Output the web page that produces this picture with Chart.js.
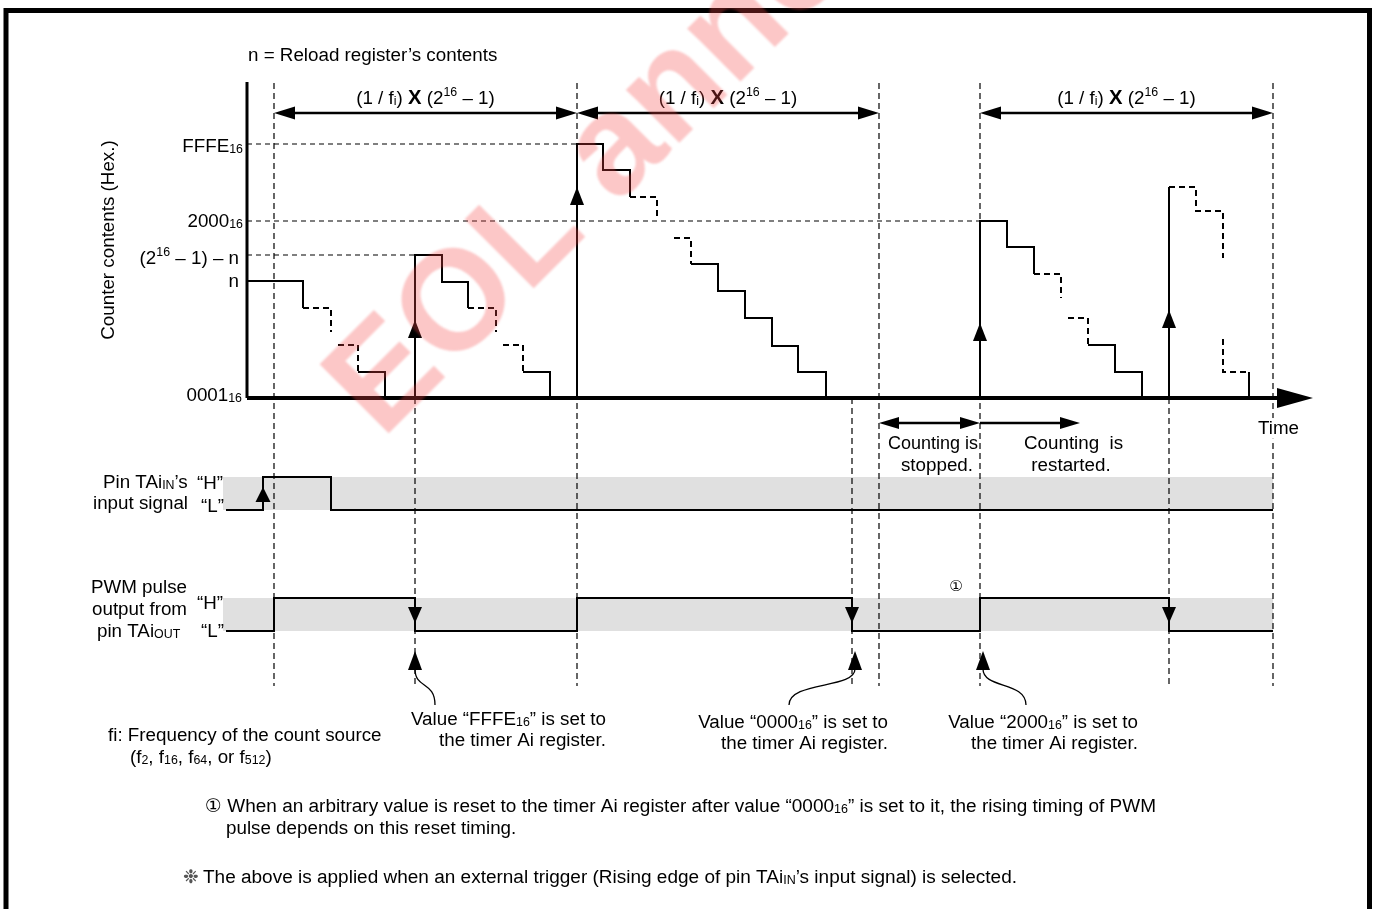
<!DOCTYPE html>
<html>
<head>
<meta charset="utf-8">
<script src="https://cdn.jsdelivr.net/npm/chart.js@4.4.1/dist/chart.umd.min.js"></script>
<style>
  html, body { margin: 0; padding: 0; background: #fff; }
  canvas { display: block; }
</style>
</head>
<body>
<canvas id="timing" width="1377" height="909"></canvas>
<script>
// time axis: count-source ticks measured from the counter axis (schematic units)
// counter axis: schematic counter level above 0001h
const tickLevels = [254, 177, 143, 117, 0];
const tickLabels = [
  ['FFFE', ['16', 'sub']],
  ['2000', ['16', 'sub']],
  ['(2', ['16', 'sup'], ' \u2013 1) \u2013 n'],
  ['n'],
  ['0001', ['16', 'sub']]
];

// counter staircases, solid parts
const counterSolid = [
  [[0, 117], [56, 117], [56, 90]],
  [[111, 26], [138, 26], [138, 0]],
  [[168, 0], [168, 143], [195, 143], [195, 116], [221, 116], [221, 90]],
  [[276, 26], [303, 26], [303, 0]],
  [[330, 0], [330, 254], [356, 254], [356, 228], [383, 228], [383, 201]],
  [[444, 134], [471, 134], [471, 107], [498, 107], [498, 80], [525, 80], [525, 52], [551, 52], [551, 26], [579, 26], [579, 0]],
  [[733, 0], [733, 177], [760, 177], [760, 151], [787, 151], [787, 124]],
  [[841, 53], [868, 53], [868, 26], [895, 26], [895, 0]],
  [[922, 0], [922, 211]],
  [[1002, 26], [1002, 0]]
];
// counter staircases, dashed (omitted counts)
const counterDashed = [
  [[56, 90], [84, 90], [84, 66]],
  [[91, 53], [111, 53], [111, 26]],
  [[221, 90], [249, 90], [249, 66]],
  [[256, 53], [276, 53], [276, 26]],
  [[383, 201], [410, 201], [410, 178]],
  [[427, 160], [444, 160], [444, 134]],
  [[787, 124], [814, 124], [814, 100]],
  [[821, 80], [841, 80], [841, 53]],
  [[922, 211], [949, 211], [949, 187], [976, 187], [976, 140]],
  [[976, 59], [976, 26], [1002, 26]]
];
// reload edges: [time, arrow tip level]
const reloadArrows = [[168, 78], [330, 211], [733, 75], [922, 88]];

// dashed guides
const guideFull = [27, 330, 632, 733, 1026];
const guideLower = [168, 605, 922];
const guideLevels = [[254, 330], [177, 733], [143, 168]];

// period arrows (1/fi) x (2^16 - 1)
const periods = [[27, 330], [330, 632], [733, 1026]];
const countStop = [632, 733];
const countRestart = [733, 833];

// pin signals (0 = "L", 1 = "H")
const taIn = [[-21, 0], [16, 0], [16, 1], [84, 1], [84, 0], [1026, 0]];
const taInRise = [16];
const pwmOut = [[-21, 0], [27, 0], [27, 1], [168, 1], [168, 0], [330, 0], [330, 1], [605, 1], [605, 0],
                [733, 0], [733, 1], [922, 1], [922, 0], [1026, 0]];
const pwmFalls = [168, 605, 922];
const bandSpan = [-24, 1026];

// register writes pointed at below the PWM trace: [time, tail offset]
const registerWrites = [[168, 20], [608, -66], [736, 43]];

const xRange = [-25, 1066];
const axisEnd = 1030;
const yAxisTop = 316;
const periodLevel = 285;
const countingLevel = -25;

const FONT = '"Liberation Sans", Arial, Helvetica, "DejaVu Sans", sans-serif';
const SIZE = 18.8;
const area = { left: 222, right: 1313, top: 83, bottom: 686 };

function rangeFor(pxA, vA, pxB, vB) {
  const per = (pxA - pxB) / (vB - vA);
  return { min: vA - (area.bottom - pxA) / per, max: vA + (pxA - area.top) / per };
}
const ycR = rangeFor(398, 0, 144, 254);
const yinR = rangeFor(510, 0, 477, 1);
const ypwmR = rangeFor(631, 0, 598, 1);

function partFont(kind, size) {
  if (kind === 'sub' || kind === 'sup') return `${(size * 0.66).toFixed(1)}px ${FONT}`;
  if (kind === 'x') return `bold ${(size * 1.08).toFixed(1)}px ${FONT}`;
  return `${size}px ${FONT}`;
}
function drawRich(ctx, parts, x, y, o = {}) {
  const size = o.size || SIZE;
  const items = parts.map(p => (typeof p === 'string' ? [p, ''] : p));
  let w = 0;
  const widths = items.map(([t, k]) => {
    ctx.font = partFont(k, size);
    const m = ctx.measureText(t).width;
    w += m;
    return m;
  });
  const sx = o.width ? o.width / w : 1;
  const total = w * sx;
  const x0 = o.align === 'right' ? x - total : o.align === 'center' ? x - total / 2 : x;
  ctx.save();
  if (o.clear) {
    ctx.fillStyle = '#fff';
    ctx.fillRect(x0 - 2, y - size * 0.85, total + 4, size * 1.1);
  }
  ctx.translate(x0, y);
  ctx.scale(sx, 1);
  ctx.textAlign = 'left';
  ctx.textBaseline = 'alphabetic';
  ctx.fillStyle = o.color || '#000';
  let cx = 0;
  items.forEach(([t, k], i) => {
    ctx.font = partFont(k, size);
    const dy = k === 'sub' ? size * 0.06 : k === 'sup' ? -size * 0.4 : 0;
    ctx.fillText(t, cx, dy);
    cx += widths[i];
  });
  ctx.restore();
}

function tri(ctx, x, y, dir, len, half) {
  ctx.beginPath();
  ctx.moveTo(x, y);
  if (dir === 'up') { ctx.lineTo(x - half, y + len); ctx.lineTo(x + half, y + len); }
  if (dir === 'down') { ctx.lineTo(x - half, y - len); ctx.lineTo(x + half, y - len); }
  if (dir === 'left') { ctx.lineTo(x + len, y - half); ctx.lineTo(x + len, y + half); }
  if (dir === 'right') { ctx.lineTo(x - len, y - half); ctx.lineTo(x - len, y + half); }
  ctx.closePath();
  ctx.fill();
}

function hArrow(ctx, x1, x2, y, heads, len, half, lw) {
  ctx.lineWidth = lw;
  ctx.beginPath();
  ctx.moveTo(heads.left ? x1 + len * 0.5 : x1, y);
  ctx.lineTo(heads.right ? x2 - len * 0.5 : x2, y);
  ctx.stroke();
  if (heads.left) tri(ctx, x1, y, 'left', len, half);
  if (heads.right) tri(ctx, x2, y, 'right', len, half);
}

function segDataset(points, opts) {
  return {
    data: points.map(([x, y]) => ({ x, y })),
    yAxisID: opts.axis || 'yc',
    showLine: true,
    borderColor: '#000',
    borderWidth: opts.width,
    borderDash: opts.dash || [],
    borderCapStyle: 'butt',
    borderJoinStyle: 'miter',
    pointRadius: 0,
    tension: 0,
    fill: false,
    clip: false
  };
}

const datasets = [];
guideLevels.forEach(([lv, end]) => datasets.push(segDataset([[0, lv], [end, lv]], { width: 1.2, dash: [5, 4] })));
guideFull.forEach(t => datasets.push(segDataset([[t, ycR.max], [t, ycR.min]], { width: 1.2, dash: [6, 4] })));
guideLower.forEach(t => datasets.push(segDataset([[t, 0], [t, ycR.min]], { width: 1.2, dash: [6, 4] })));
counterSolid.forEach(s => datasets.push(segDataset(s, { width: 2 })));
counterDashed.forEach(s => datasets.push(segDataset(s, { width: 2, dash: [6, 4] })));
datasets.push(segDataset([[0, 0], [0, yAxisTop]], { width: 3 }));
datasets.push(segDataset([[0, 0], [axisEnd, 0]], { width: 4 }));
datasets.push(segDataset(taIn, { width: 2, axis: 'yin' }));
datasets.push(segDataset(pwmOut, { width: 2, axis: 'ypwm' }));

const diagram = {
  id: 'diagram',
  beforeDraw(chart) {
    const ctx = chart.ctx;
    ctx.save();
    ctx.fillStyle = '#fff';
    ctx.fillRect(0, 0, chart.width, chart.height);
    ctx.restore();
  },
  beforeDatasetsDraw(chart) {
    const { ctx, scales } = chart;
    const x = scales.x;
    ctx.save();
    ctx.fillStyle = '#e0e0e0';
    const bx0 = x.getPixelForValue(bandSpan[0]);
    const bx1 = x.getPixelForValue(bandSpan[1]);
    [['yin', 1, 0], ['ypwm', 1, 0]].forEach(([id, hi, lo]) => {
      const s = scales[id];
      const top = s.getPixelForValue(hi);
      ctx.fillRect(bx0, top, bx1 - bx0, s.getPixelForValue(lo) - top);
    });
    ctx.restore();
  },
  afterDatasetsDraw(chart) {
    const { ctx, scales } = chart;
    const x = scales.x, yc = scales.yc, yin = scales.yin, ypwm = scales.ypwm;
    ctx.save();
    ctx.fillStyle = '#000';
    ctx.strokeStyle = '#000';

    // time axis arrowhead
    tri(ctx, x.getPixelForValue(xRange[1]), yc.getPixelForValue(0), 'right', 36, 10);

    // reload arrows on the counter
    reloadArrows.forEach(([t, lv]) => tri(ctx, x.getPixelForValue(t), yc.getPixelForValue(lv), 'up', 18, 7));

    // period arrows and labels
    const py = yc.getPixelForValue(periodLevel);
    periods.forEach(([a, b]) => {
      const xa = x.getPixelForValue(a), xb = x.getPixelForValue(b);
      hArrow(ctx, xa, xb, py, { left: true, right: true }, 21, 6.5, 2.5);
      drawRich(ctx, ['(1 / f', ['i', 'sub'], ') ', ['X', 'x'], ' (2', ['16', 'sup'], ' \u2013 1)'],
        (xa + xb) / 2, py - 9, { align: 'center' });
    });

    // counting stopped / restarted
    const cy = yc.getPixelForValue(countingLevel);
    hArrow(ctx, x.getPixelForValue(countStop[0]), x.getPixelForValue(countStop[1]), cy, { left: true, right: true }, 20, 6, 2.5);
    hArrow(ctx, x.getPixelForValue(countRestart[0]), x.getPixelForValue(countRestart[1]), cy, { right: true }, 20, 6, 2.5);

    // pin signal arrows
    taInRise.forEach(t => tri(ctx, x.getPixelForValue(t), yin.getPixelForValue(1) + 10, 'up', 15, 7.5));
    pwmFalls.forEach(t => tri(ctx, x.getPixelForValue(t), ypwm.getPixelForValue(0) - 8, 'down', 16, 7));

    // register write pointers
    const tipY = ypwm.getPixelForValue(0) + 20;
    ctx.lineWidth = 1.3;
    registerWrites.forEach(([t, dx]) => {
      const px = x.getPixelForValue(t);
      tri(ctx, px, tipY, 'up', 19, 7);
      const b = tipY + 18;
      ctx.beginPath();
      ctx.moveTo(px, b);
      ctx.bezierCurveTo(px, b + 20, px + dx, b + 12, px + dx, b + 36);
      ctx.stroke();
    });

    // tick labels
    const tickRight = [243, 243, 239, 239, 242];
    const tickDy = [8, 6, 9, 6, 3];
    tickLevels.forEach((lv, i) => {
      drawRich(ctx, tickLabels[i], tickRight[i], yc.getPixelForValue(lv) + tickDy[i], { align: 'right' });
    });

    // texts
    drawRich(ctx, ['n = Reload register\u2019s contents'], 248, 61);
    ctx.save();
    ctx.translate(114, 240);
    ctx.rotate(-Math.PI / 2);
    drawRich(ctx, ['Counter contents (Hex.)'], 0, 0, { align: 'center' });
    ctx.restore();
    drawRich(ctx, ['Time'], 1258, 434, { clear: true });
    drawRich(ctx, ['Counting is'], 888, 449, { width: 90 });
    drawRich(ctx, ['stopped.'], 937, 471, { align: 'center' });
    drawRich(ctx, ['Counting  is'], 1024, 449);
    drawRich(ctx, ['restarted.'], 1071, 471, { align: 'center' });

    drawRich(ctx, ['Pin TAi', ['IN', 'sub'], '\u2019s'], 103, 488);
    drawRich(ctx, ['input signal'], 93, 509);
    drawRich(ctx, ['\u201cH\u201d'], 197, 489);
    drawRich(ctx, ['\u201cL\u201d'], 201, 512);

    drawRich(ctx, ['PWM pulse'], 91, 593);
    drawRich(ctx, ['output from'], 92, 615);
    drawRich(ctx, ['pin TAi', ['OUT', 'sub']], 97, 637);
    drawRich(ctx, ['\u201cH\u201d'], 197, 609);
    drawRich(ctx, ['\u201cL\u201d'], 201, 637);

    drawRich(ctx, ['\u2460'], 956, 591, { align: 'center', size: 15 });

    drawRich(ctx, ['Value \u201cFFFE', ['16', 'sub'], '\u201d is set to'], 606, 725, { align: 'right' });
    drawRich(ctx, ['the timer Ai register.'], 606, 746, { align: 'right' });
    drawRich(ctx, ['Value \u201c0000', ['16', 'sub'], '\u201d is set to'], 888, 728, { align: 'right' });
    drawRich(ctx, ['the timer Ai register.'], 888, 749, { align: 'right' });
    drawRich(ctx, ['Value \u201c2000', ['16', 'sub'], '\u201d is set to'], 1138, 728, { align: 'right' });
    drawRich(ctx, ['the timer Ai register.'], 1138, 749, { align: 'right' });

    drawRich(ctx, ['fi: Frequency of the count source'], 108, 741);
    drawRich(ctx, ['(f', ['2', 'sub'], ', f', ['16', 'sub'], ', f', ['64', 'sub'], ', or f', ['512', 'sub'], ')'], 130, 763);

    drawRich(ctx, ['\u2460 When an arbitrary value is reset to the timer Ai register after value \u201c0000', ['16', 'sub'],
      '\u201d is set to it, the rising timing of PWM'], 205, 812, { width: 951 });
    drawRich(ctx, ['pulse depends on this reset timing.'], 226, 834);
    drawRich(ctx, ['\u2749'], 183, 883, { color: '#555' });
    drawRich(ctx, ['The above is applied when an external trigger (Rising edge of pin TAi', ['IN', 'sub'],
      '\u2019s input signal) is selected.'], 203, 883, { width: 814 });
    ctx.restore();
  },
  afterDraw(chart) {
    const ctx = chart.ctx;
    ctx.save();
    ctx.strokeStyle = '#000';
    ctx.lineWidth = 5;
    ctx.strokeRect(6, 10.5, 1363.5, 960);
    ctx.restore();

    // watermark
    ctx.save();
    ctx.translate(382, 440);
    ctx.rotate(-Math.PI / 4);
    ctx.filter = 'blur(1.2px)';
    ctx.fillStyle = 'rgba(245, 70, 70, 0.3)';
    ctx.font = `bold 142px ${FONT}`;
    ctx.textBaseline = 'alphabetic';
    ctx.fillText('EOL announced', 0, 0);
    ctx.restore();
  }
};

new Chart(document.getElementById('timing'), {
  type: 'scatter',
  data: { datasets },
  options: {
    responsive: false,
    animation: false,
    events: [],
    layout: { padding: { left: area.left, right: 1377 - area.right, top: area.top, bottom: 909 - area.bottom } },
    plugins: { legend: { display: false }, tooltip: { enabled: false }, title: { display: false } },
    scales: {
      x: { type: 'linear', display: false, min: xRange[0], max: xRange[1] },
      yc: { type: 'linear', display: false, min: ycR.min, max: ycR.max },
      yin: { type: 'linear', display: false, min: yinR.min, max: yinR.max },
      ypwm: { type: 'linear', display: false, min: ypwmR.min, max: ypwmR.max }
    }
  },
  plugins: [diagram]
});
</script>
</body>
</html>
